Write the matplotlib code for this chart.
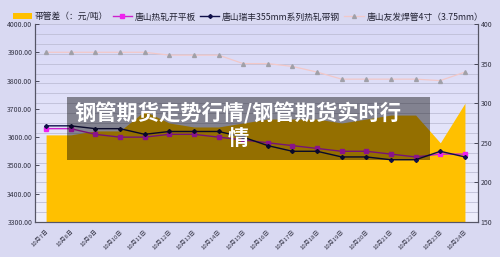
import numpy as np
import matplotlib
matplotlib.use("Agg")
import matplotlib.pyplot as plt
from matplotlib.lines import Line2D
from matplotlib.patches import Patch, Rectangle

plt.rcParams['font.family'] = ['Noto Sans CJK SC', 'DejaVu Sans']

dates = ["10月7日", "10月8日", "10月9日", "10月10日", "10月11日", "10月12日",
         "10月13日", "10月14日", "10月15日", "10月16日", "10月17日", "10月18日",
         "10月19日", "10月20日", "10月21日", "10月22日", "10月23日", "10月24日"]
# 带管差 (right axis)
spread = [260, 260, 265, 265, 290, 275, 270, 270, 275, 280, 280, 280,
          275, 280, 285, 285, 250, 300]
# left axis series
plate = [3630, 3630, 3610, 3600, 3600, 3610, 3610, 3600, 3590, 3580, 3570, 3560,
         3550, 3550, 3540, 3530, 3540, 3540]
strip = [3640, 3640, 3630, 3630, 3610, 3620, 3620, 3620, 3600, 3570, 3550, 3550,
         3530, 3530, 3520, 3520, 3550, 3530]
pipe = [3900, 3900, 3900, 3900, 3900, 3890, 3890, 3890, 3860, 3860, 3850, 3830,
        3805, 3805, 3805, 3805, 3800, 3830]

names = ["带管差（：元/吨）", "唐山热轧开平板", "唐山瑞丰355mm系列热轧带钢", "唐山友发焊管4寸（3.75mm）"]

fig = plt.figure(figsize=(5, 2.57), dpi=100)
fig.patch.set_facecolor('#d9d9f2')
ax = fig.add_axes([0.07, 0.1362, 0.886, 0.7704])  # right axis (area)
axl = ax.twinx()  # left axis (lines)

x = np.arange(len(dates))

# gradient background
grad = np.linspace(0, 1, 100).reshape(-1, 1)
ax.imshow(grad, extent=[0, 1, 0, 1], transform=ax.transAxes, aspect='auto',
          cmap=matplotlib.colors.LinearSegmentedColormap.from_list('bg', ['#eeeefc', '#d8d8f6']),
          origin='lower', zorder=0)

ax.fill_between(x, 150, spread, color='#ffc000', lw=0, zorder=2)
ax.set_ylim(150, 400)
ax.set_xlim(-0.45, 17.53)
for v in np.arange(150, 400.1, 12.5):
    ax.axhline(v, color='#bebed6', lw=0.6, zorder=1)
ax.yaxis.tick_right()
ax.yaxis.set_label_position('right')
ax.set_yticks(np.arange(150, 401, 50))
ax.set_yticklabels([str(v) for v in range(150, 401, 50)])

axl.yaxis.tick_left()
axl.set_ylim(3300, 4000)
axl.set_yticks(np.arange(3300, 4001, 100))
axl.set_yticklabels(["%.2f" % v for v in range(3300, 4001, 100)])
axl.plot(x, pipe, color='#f2c8c8', lw=0.9, marker='^', ms=2.8,
         mfc='#a0a0a8', mec='#a0a0a8', zorder=3)
axl.plot(x, plate, color='#cc22cc', lw=1.0, marker='s', ms=3,
         mfc='#ee22ee', mec='#ee22ee', zorder=4)
axl.plot(x, strip, color='#10104a', lw=1.0, marker='D', ms=2,
         mfc='#10104a', mec='#10104a', zorder=5)

for a in (ax, axl):
    a.spines['top'].set_visible(False)
    for s in ('left', 'right', 'bottom'):
        a.spines[s].set_color('#555566')
        a.spines[s].set_linewidth(0.8)
    a.tick_params(axis='y', labelsize=5, colors='#333344', length=3, width=0.6,
                  direction='in', pad=2)

ax.set_xticks(x)
ax.set_xticklabels(dates, rotation=45, ha='right', va='top',
                   rotation_mode='anchor', fontsize=4.3, color='#333344')
ax.set_xticks(np.arange(0.5, 17, 1), minor=True)
ax.tick_params(axis='x', which='major', length=0, pad=5)
ax.tick_params(axis='x', which='minor', length=3, width=0.6, direction='in',
               color='#555566')

handles = [
    Patch(facecolor='#ffc000', edgecolor='none'),
    Line2D([], [], color='#cc22cc', lw=1.0, marker='s', ms=3, mfc='#ee22ee', mec='#ee22ee'),
    Line2D([], [], color='#10104a', lw=1.0, marker='D', ms=2),
    Line2D([], [], color='#f2c8c8', lw=0.9, marker='^', ms=2.8, mfc='#a0a0a8', mec='#a0a0a8'),
]
fig.legend(handles, names, loc='center', bbox_to_anchor=(0.496, 0.934), ncol=4,
           frameon=False, fontsize=6.3, handlelength=2.2, handletextpad=0.3,
           columnspacing=0.5, labelcolor='#222233')

# title overlay
fig.patches.append(Rectangle((0.134, 0.377), 0.726, 0.245, transform=fig.transFigure,
                             facecolor='black', alpha=0.42, edgecolor='none', zorder=10))
fig.text(0.476, 0.512, "钢管期货走势行情/钢管期货实时行\n情", color='white',
         fontsize=15.3, fontweight='bold', ha='center', va='center',
         multialignment='center', linespacing=1.2, zorder=11)

fig.savefig('out.png', dpi=100, facecolor=fig.get_facecolor())
